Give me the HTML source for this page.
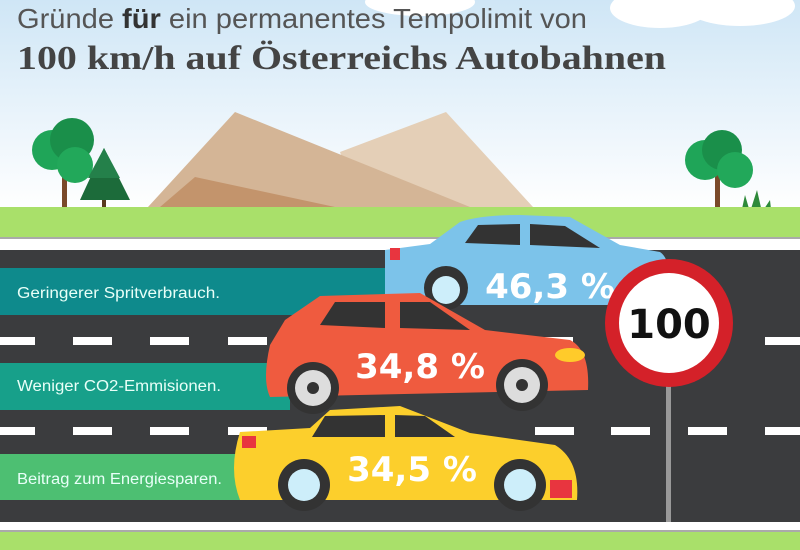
<!DOCTYPE html>
<html><head><meta charset="utf-8"><style>
html,body{margin:0;padding:0;width:800px;height:550px;overflow:hidden}
</style></head><body>
<svg width="800" height="550" viewBox="0 0 800 550" xmlns="http://www.w3.org/2000/svg">
<defs>
<linearGradient id="sky" x1="0" y1="0" x2="0" y2="1">
<stop offset="0" stop-color="#cfe6f6"/><stop offset="1" stop-color="#ffffff"/>
</linearGradient>
</defs>
<rect width="800" height="210" fill="url(#sky)"/>
<ellipse cx="420" cy="2" rx="55" ry="14" fill="#fff"/>
<ellipse cx="660" cy="8" rx="50" ry="20" fill="#fff"/>
<ellipse cx="740" cy="6" rx="55" ry="20" fill="#fff"/>
<text x="17" y="28" font-family="Liberation Sans, sans-serif" font-size="28" fill="#555" textLength="570" lengthAdjust="spacingAndGlyphs">Gründe <tspan font-weight="bold" fill="#333">für</tspan> ein permanentes Tempolimit von</text>
<text x="17" y="69" font-family="Liberation Serif, serif" font-weight="bold" font-size="34" fill="#444" textLength="649" lengthAdjust="spacingAndGlyphs">100 km/h auf Österreichs Autobahnen</text>
<!-- mountains -->
<polygon points="340,152 446,112 533,207 360,207" fill="#e4cfb7"/>
<polygon points="148,207 235,112 470,207" fill="#d4b596"/>
<polygon points="160,207 195,177 335,207" fill="#c3946c"/>
<!-- trees left -->
<rect x="62" y="160" width="5" height="48" fill="#7a4a2a"/>
<circle cx="52" cy="150" r="20" fill="#1fa558"/><circle cx="72" cy="140" r="22" fill="#1a8f4a"/><circle cx="75" cy="165" r="18" fill="#22a85a"/>
<rect x="102" y="195" width="4" height="25" fill="#5a3a20"/>
<polygon points="104,148 80,200 130,200" fill="#1c6b3a"/>
<polygon points="104,148 88,178 120,178" fill="#24804a"/>
<!-- tree right -->
<rect x="715" y="160" width="5" height="55" fill="#7a4a2a"/>
<circle cx="705" cy="160" r="20" fill="#1fa558"/><circle cx="722" cy="150" r="20" fill="#1a8f4a"/><circle cx="735" cy="170" r="18" fill="#22a85a"/>
<polygon points="740,218 745,195 750,212 757,190 762,212 770,200 772,218" fill="#2e8a3a"/>
<!-- grass -->
<rect x="0" y="207" width="800" height="32" fill="#a9e06a"/>
<rect x="0" y="238" width="800" height="12" fill="#fff"/>
<rect x="0" y="237" width="800" height="2" fill="#aaa"/>
<rect x="0" y="250" width="800" height="272" fill="#3b3c3e"/>
<rect x="0" y="522" width="800" height="9" fill="#fff"/>
<rect x="0" y="530" width="800" height="2" fill="#aaa"/>
<rect x="0" y="532" width="800" height="18" fill="#a9e06a"/>
<!-- dashes -->
<g fill="#fff">
<rect x="-3" y="337" width="38" height="8"/><rect x="73" y="337" width="39" height="8"/><rect x="150" y="337" width="39" height="8"/><rect x="228" y="337" width="39" height="8"/><rect x="534" y="337" width="39" height="8"/><rect x="765" y="337" width="39" height="8"/>
<rect x="-3" y="427" width="38" height="8"/><rect x="73" y="427" width="39" height="8"/><rect x="150" y="427" width="39" height="8"/><rect x="228" y="427" width="39" height="8"/><rect x="535" y="427" width="39" height="8"/><rect x="611" y="427" width="39" height="8"/><rect x="688" y="427" width="39" height="8"/><rect x="765" y="427" width="39" height="8"/>
</g>
<!-- bars -->
<rect x="0" y="268" width="400" height="47" fill="#0e8a8c"/>
<rect x="0" y="363" width="290" height="47" fill="#17a08a"/>
<rect x="0" y="454" width="250" height="46" fill="#4dbf72"/>
<g font-family="Liberation Sans, sans-serif" font-size="15.5" fill="#e8fff8">
<text x="17" y="298" textLength="203" lengthAdjust="spacingAndGlyphs">Geringerer Spritverbrauch.</text>
<text x="17" y="391" textLength="204" lengthAdjust="spacingAndGlyphs">Weniger CO2-Emmisionen.</text>
<text x="17" y="484" textLength="205" lengthAdjust="spacingAndGlyphs">Beitrag zum Energiesparen.</text>
</g>
<!-- sign pole -->
<rect x="666" y="380" width="5" height="142" fill="#999"/>
<!-- blue car -->
<path d="M385,250 L430,244 L460,222 Q480,215 520,215 L570,217 L620,245 L660,252 Q675,262 662,305 L385,305 Z" fill="#7cc3ea"/>
<path d="M465,243 L478,225 L520,224 L520,245 Z" fill="#333"/>
<path d="M530,245 L530,224 L565,226 L600,248 Z" fill="#333"/>
<rect x="390" y="248" width="10" height="12" fill="#e8353f"/>
<circle cx="446" cy="288" r="22" fill="#333"/><circle cx="446" cy="290" r="14" fill="#cdeefa"/>
<text x="550" y="298" text-anchor="middle" font-family="DejaVu Sans, sans-serif" font-weight="bold" font-size="34" fill="#fff">46,3 %</text>
<!-- sign -->
<circle cx="669" cy="323" r="64" fill="#d42129"/>
<circle cx="669" cy="323" r="50" fill="#fff"/>
<text x="669" y="338" text-anchor="middle" font-family="DejaVu Sans, sans-serif" font-weight="bold" font-size="40" fill="#111">100</text>
<!-- red car -->
<path d="M270,345 L285,320 L320,296 L420,293 L485,330 L570,340 Q590,350 588,390 L270,397 Q262,380 270,345 Z" fill="#ef5b3f"/>
<path d="M320,325 L335,302 L385,302 L385,328 Z" fill="#333"/>
<path d="M400,328 L400,302 L430,302 L470,330 Z" fill="#333"/>
<ellipse cx="570" cy="355" rx="15" ry="7" fill="#ffcb2a"/>
<circle cx="313" cy="388" r="26" fill="#333"/><circle cx="313" cy="388" r="18" fill="#ddd"/><circle cx="313" cy="388" r="6" fill="#333"/>
<circle cx="522" cy="385" r="26" fill="#333"/><circle cx="522" cy="385" r="18" fill="#ddd"/><circle cx="522" cy="385" r="6" fill="#333"/>
<text x="420" y="378" text-anchor="middle" font-family="DejaVu Sans, sans-serif" font-weight="bold" font-size="34" fill="#fff">34,8 %</text>
<!-- yellow car -->
<path d="M240,432 L310,428 L330,410 L400,406 L470,433 L555,445 Q580,460 577,500 L240,500 Q228,470 240,432 Z" fill="#fccf2c"/>
<path d="M312,437 L325,416 L385,415 L385,437 Z" fill="#333"/>
<path d="M395,437 L395,415 L425,416 L455,437 Z" fill="#333"/>
<rect x="242" y="436" width="14" height="12" fill="#e8353f"/>
<path d="M550,480 L572,480 L572,498 L550,498 Z" fill="#e8353f"/>
<circle cx="304" cy="485" r="26" fill="#333"/><circle cx="304" cy="485" r="16" fill="#cdeefa"/>
<circle cx="520" cy="485" r="26" fill="#333"/><circle cx="520" cy="485" r="16" fill="#cdeefa"/>
<text x="412" y="481" text-anchor="middle" font-family="DejaVu Sans, sans-serif" font-weight="bold" font-size="34" fill="#fff">34,5 %</text>
</svg>
</body></html>
